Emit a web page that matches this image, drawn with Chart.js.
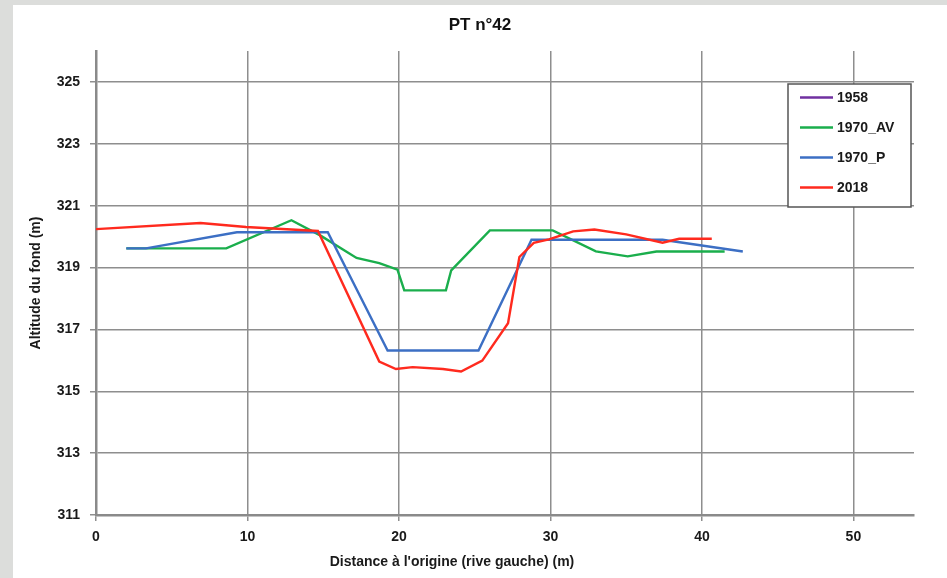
<!DOCTYPE html>
<html><head><meta charset="utf-8">
<script src="https://cdn.jsdelivr.net/npm/chart.js@4.4.1/dist/chart.umd.min.js"></script>
<style>
html,body{margin:0;padding:0;background:#dcdddb;width:947px;height:578px;overflow:hidden}
#wrap{position:absolute;left:13px;top:5px;width:934px;height:573px;background:#fff}
canvas{display:block}
</style></head><body>
<div id="wrap"><canvas id="c" width="934" height="573"></canvas></div>
<script>
const chartTitle = 'PT n°42';
const xAxisTitle = "Distance à l'origine (rive gauche) (m)";
const yAxisTitle = 'Altitude du fond (m)';
const seriesNames = ['1958', '1970_AV', '1970_P', '2018'];
const seriesColors = ['#7030a0', '#1aae4c', '#3c6fc4', '#ff2a1e'];
const xTicks = [0, 10, 20, 30, 40, 50];
const yTicks = [311, 313, 315, 317, 319, 321, 323, 325];

const x1958 = [];
const y1958 = [];
const xAV = [2.0, 8.6, 12.9, 14.8, 17.2, 18.7, 19.9, 20.35, 23.1, 23.45, 26.0, 30.15, 33.0, 35.1, 37.0, 41.5];
const yAV = [319.62, 319.62, 320.53, 320.04, 319.31, 319.14, 318.93, 318.26, 318.26, 318.91, 320.2, 320.2, 319.52, 319.36, 319.52, 319.52];
const xP = [2.0, 3.3, 9.3, 15.3, 19.25, 25.25, 28.75, 37.4, 42.7];
const yP = [319.62, 319.62, 320.14, 320.14, 316.32, 316.32, 319.9, 319.9, 319.52];
const x2018 = [0, 6.9, 9.9, 14.65, 18.7, 19.8, 20.9, 22.9, 24.1, 25.5, 27.2, 27.95, 28.9, 29.9, 31.5, 32.9, 35.0, 37.4, 38.5, 40.65];
const y2018 = [320.24, 320.44, 320.31, 320.18, 315.96, 315.72, 315.78, 315.72, 315.64, 315.99, 317.2, 319.34, 319.8, 319.91, 320.17, 320.23, 320.07, 319.8, 319.93, 319.93];

const xMin = 0, xMax = 54, yMin = 311, yMax = 326;

const FONT = "'Liberation Sans', Arial, sans-serif";
const zip = (xs, ys) => xs.map((x, i) => ({x: x, y: ys[i]}));
const allX = [x1958, xAV, xP, x2018];
const allY = [y1958, yAV, yP, y2018];

const datasets = seriesNames.map((name, i) => ({
  label: name,
  data: zip(allX[i], allY[i]),
  borderColor: seriesColors[i],
  backgroundColor: seriesColors[i],
  borderWidth: 2.4,
  pointRadius: 0,
  pointHoverRadius: 0,
  tension: 0,
  fill: false,
  order: seriesNames.length - i
}));

const boxLegend = {
  id: 'boxLegend',
  afterDraw(chart) {
    const ctx = chart.ctx;
    const L = 775, T = 79, R = 898, B = 202;
    ctx.save();
    ctx.fillStyle = '#ffffff';
    ctx.fillRect(L, T, R - L, B - T);
    ctx.strokeStyle = '#555555';
    ctx.lineWidth = 1.5;
    ctx.strokeRect(L, T, R - L, B - T);
    ctx.font = 'bold 14px ' + FONT;
    ctx.textBaseline = 'middle';
    ctx.textAlign = 'left';
    chart.data.datasets.forEach((ds, i) => {
      const y = 92.5 + i * 30;
      ctx.strokeStyle = ds.borderColor;
      ctx.lineWidth = 2.4;
      ctx.beginPath();
      ctx.moveTo(787, y);
      ctx.lineTo(820, y);
      ctx.stroke();
      ctx.fillStyle = '#1a1a1a';
      ctx.fillText(ds.label, 824, y + 0.5);
    });
    // x axis title
    ctx.font = 'bold 14px ' + FONT;
    ctx.textAlign = 'center';
    ctx.fillStyle = '#1a1a1a';
    ctx.fillText(xAxisTitle, 439, 557);
    ctx.restore();
  }
};

const gridColor = '#8e8e8e';

new Chart(document.getElementById('c'), {
  type: 'line',
  data: { datasets: datasets },
  plugins: [boxLegend],
  options: {
    responsive: false,
    animation: false,
    devicePixelRatio: 1,
    layout: { padding: { left: 0, right: 0, top: 0, bottom: 0 } },
    plugins: {
      legend: { display: false },
      tooltip: { enabled: false },
      title: {
        display: true,
        text: chartTitle,
        color: '#111111',
        font: { family: FONT, size: 17, weight: 'bold' },
        padding: { top: 9.8, bottom: 15.8 }
      }
    },
    scales: {
      x: {
        type: 'linear',
        min: xMin, max: xMax,
        afterBuildTicks(s) { s.ticks = xTicks.map(v => ({value: v})); },
        afterFit(s) { s.height = 63; },
        grid: { color: gridColor, lineWidth: 1.5, tickLength: 6, tickColor: gridColor, tickWidth: 1.5 },
        border: { display: true, color: '#8a8a8a', width: 2.5 },
        ticks: { color: '#1a1a1a', padding: 8, maxRotation: 0, font: { family: FONT, size: 14, weight: 'bold' } }
      },
      y: {
        type: 'linear',
        min: yMin, max: yMax,
        afterBuildTicks(s) { s.ticks = yTicks.map(v => ({value: v})); },
        afterFit(s) { s.width = 83; },
        grid: { color: gridColor, lineWidth: 1.5, tickLength: 6, tickColor: gridColor, tickWidth: 1.5 },
        border: { display: true, color: '#8a8a8a', width: 2.5 },
        ticks: { color: '#1a1a1a', padding: 10, font: { family: FONT, size: 14, weight: 'bold' } },
        title: {
          display: true,
          text: yAxisTitle,
          color: '#1a1a1a',
          font: { family: FONT, size: 14, weight: 'bold' },
          padding: { top: 14.6, bottom: 0 }
        }
      },
      yRight: {
        type: 'linear',
        position: 'right',
        display: true,
        min: yMin, max: yMax,
        grid: { display: false, drawTicks: false },
        border: { display: false },
        ticks: { display: false },
        afterFit(s) { s.width = 33; }
      }
    }
  }
});
</script>
</body></html>
